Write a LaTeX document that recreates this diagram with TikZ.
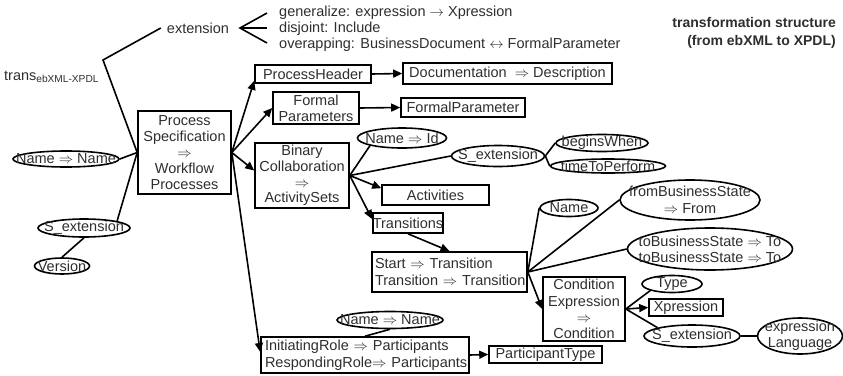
\documentclass[tikz,border=0pt]{standalone}
\usepackage{fontspec}
\setmainfont{Liberation Sans}
\usetikzlibrary{shapes.geometric,arrows.meta}
\begin{document}
\begin{tikzpicture}[x=1pt,y=-1pt,
 every node/.style={font=\fontsize{14.5}{15.8}\selectfont, text=black!82, inner sep=0pt},
 box/.style={draw=black, line width=1.6pt, align=center, rectangle},
 lbox/.style={box, align=left, font=\fontsize{14.5}{17.5}\selectfont},
 ell/.style={draw=black, ellipse, line width=1.6pt},
 ln/.style={line width=1.6pt},
 arr/.style={line width=1.6pt, -{Triangle[length=9pt,width=8pt]}},
]
\useasboundingbox (0,0) rectangle (843,375);

% texts
\node[anchor=west] (translabel) at (4,77) {trans\textsubscript{ebXML-XPDL}};
\node (ext) at (198,28) {extension};
\node[anchor=west, align=left] (gen) at (279,28.5) {generalize: expression $\rightarrow$ Xpression\\disjoint: Include\\overapping: BusinessDocument $\leftrightarrow$ FormalParameter};
\node[anchor=east, align=right, font=\bfseries\fontsize{14}{18}\selectfont] (title) at (836,33) {transformation structure\\(from ebXML to XPDL)};

% boxes
\node[box, minimum width=93, minimum height=83] (ps) at (184.5,152.5) {Process\\Specification\\$\Rightarrow$\\Workflow\\Processes};
\node[box, minimum width=116, minimum height=18] (ph) at (313,74) {ProcessHeader};
\node[box, minimum width=209, minimum height=21] (doc) at (507.5,73.5) {Documentation\ \ $\Rightarrow$ Description};
\node[box, minimum width=86, minimum height=32] (fp) at (316,108) {Formal\\Parameters};
\node[box, minimum width=124, minimum height=19] (fpar) at (463,107.5) {FormalParameter};
\node[box, minimum width=94, minimum height=65] (bc) at (302,175.5) {Binary\\Collaboration\\$\Rightarrow$\\ActivitySets};
\node[box, minimum width=107, minimum height=20] (act) at (435.5,195) {Activities};
\node[lbox, text width=149, inner xsep=3pt, minimum height=40] (start) at (449.5,272) {\mbox{Start $\Rightarrow$ Transition}\\\mbox{Transition $\Rightarrow$ Transition}};
\node[box, minimum width=70, minimum height=20] (trans) at (408,223) {Transitions};
\node[box, minimum width=82, minimum height=64, font=\fontsize{14.5}{16.3}\selectfont] (ce) at (584,309) {Condition\\Expression\\$\Rightarrow$\\Condition};
\node[box, minimum width=74, minimum height=17] (xpr) at (686,307.5) {Xpression};
\node[lbox, text width=200, inner xsep=4pt, minimum height=36] (ir) at (365,355) {\mbox{InitiatingRole\ $\Rightarrow$ Participants}\\\mbox{RespondingRole$\Rightarrow$ Participants}};
\node[box, minimum width=113, minimum height=17] (pt) at (545.5,354.5) {ParticipantType};

% ellipses
\node[ell, minimum width=106, minimum height=16, label=center:{Name $\Rightarrow$ Name}] (nn1) at (66,159) {};
\node[ell, minimum width=92, minimum height=18, label=center:{S\_extension}] (sext0) at (84,228) {};
\node[ell, minimum width=55, minimum height=16, label=center:{Version}] (ver) at (62,266) {};
\node[ell, minimum width=89, minimum height=20, label=center:{Name $\Rightarrow$ Id}] (nameid) at (402,138) {};
\node[ell, minimum width=93, minimum height=21, label=center:{S\_extension}] (sext1) at (498,156) {};
\node[ell, minimum width=92, minimum height=17, label=center:{beginsWhen}] (begins) at (602,143) {};
\node[ell, minimum width=115, minimum height=14, label=center:{timeToPerform}] (ttp) at (608,166) {};
\node[ell, minimum width=58, minimum height=17, label=center:{Name}] (name2) at (569,208) {};
\node[ell, minimum width=140, minimum height=40, label={[align=center, font=\fontsize{14.5}{17}\selectfont]center:{fromBusinessState\\$\Rightarrow$ From}}] (from) at (690,200) {};
\node[ell, minimum width=165, minimum height=42, label={[align=center]center:{toBusinessState $\Rightarrow$ To\\toBusinessState $\Rightarrow$ To}}] (to) at (710,249) {};
\node[ell, minimum width=60, minimum height=17, label=center:{Type}] (type) at (672,284) {};
\node[ell, minimum width=96, minimum height=22, label=center:{S\_extension}] (sext2) at (692,336) {};
\node[ell, minimum width=85, minimum height=36, label={[align=center]center:{expression\\Language}}] (el) at (800,336) {};
\node[ell, minimum width=106, minimum height=17, label=center:{Name $\Rightarrow$ Name}] (nn2) at (390,320) {};

% coordinates
\coordinate (tv) at (103,60);
\coordinate (eb) at (240,28);
\coordinate (g1) at (267,13);
\coordinate (g2) at (267,28);
\coordinate (g3) at (267,43);

% connectors
\draw[ln] ([xshift=-6pt]ext.west) -- (tv) -- (ps.west);
\draw[ln] (g1) -- (eb) -- (g3);
\draw[ln] (eb) -- (g2);
\draw[ln] (nn1.east) -- (ps.west);
\draw[ln] (sext0.north east) -- (ps.west);
\draw[ln] (ver.north) -- (sext0.south);

\draw[arr] (ps.east) -- ([yshift=3pt]ph.south west);
\draw[arr] (ps.east) -- (fp.west);
\draw[arr] (ps.east) -- ([yshift=5pt]bc.west);
\draw[arr] (ps.east) -- ([yshift=3pt]ir.west);
\draw[arr] (ph.east) -- (doc.west);
\draw[arr] (fp.east) -- (fpar.west);

\draw[ln] (bc.east) -- (nameid.south west);
\draw[ln] (bc.east) -- (sext1.west);
\draw[arr] (bc.east) -- ([yshift=-4pt]act.north west);
\draw[arr] (bc.east) -- ([yshift=4pt]trans.west);
\draw[ln] (sext1.east) -- (begins.west);
\draw[ln] (sext1.east) -- (ttp.west);

\draw[arr] (trans.south) -- (start.north);
\draw[ln] (start.east) -- (name2.west);
\draw[ln] (start.east) -- (from.west);
\draw[ln] (start.east) -- (to.west);
\draw[arr] (start.east) -- (ce.west);

\draw[ln] (ce.east) -- (type.south west);
\draw[arr] (ce.east) -- (xpr.west);
\draw[ln] (ce.east) -- (sext2.north west);
\draw[ln] (sext2.east) -- (el.west);

\draw[ln] (nn2.south) -- (ir.north);
\draw[arr] (ir.east) -- (pt.west);
\end{tikzpicture}
\end{document}
